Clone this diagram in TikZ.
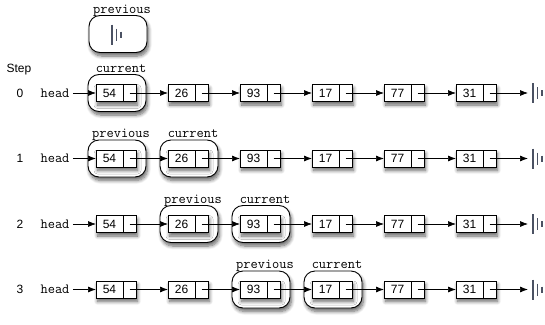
\documentclass[tikz,border=0pt]{standalone}
\usepackage{fontspec}
\setsansfont{Liberation Sans}
\usetikzlibrary{arrows.meta,positioning,shadows.blur}
\definecolor{nilgray}{HTML}{4B5263}
\tikzset{
  boxshadow/.style={blur shadow={shadow xshift=1.5pt, shadow yshift=-3.5pt, shadow opacity=60, shadow blur steps=8, shadow blur radius=3.5pt}},
  cellback/.style={fill=white, inner sep=0pt, outer sep=0pt, minimum height=17pt,
    minimum width=40pt, anchor=west, boxshadow},
  cellbox/.style={draw, line width=0.8pt, inner sep=0pt, outer sep=0pt,
    minimum height=17pt, font=\sffamily\fontsize{12}{14}\selectfont},
  datacell/.style={cellbox, minimum width=27pt, anchor=west},
  linkcell/.style={cellbox, minimum width=13pt},
  cursor/.style={draw, fill=white, line width=0.9pt, rounded corners=11pt,
    minimum width=58pt, minimum height=37pt, boxshadow},
  ptrlabel/.style={font=\ttfamily\fontsize{14}{16}\selectfont, anchor=base, inner sep=0pt},
  steplabel/.style={font=\sffamily\fontsize{12}{14}\selectfont},
  headlabel/.style={font=\ttfamily\fontsize{14}{16}\selectfont},
  link/.style={-{Latex[length=8pt, width=6pt]}, line width=0.7pt},
  nilline/.style={draw=nilgray, line width=1.4pt}
}
\newcommand{\listcell}[4]{%
  \node[cellback] (#1bg) at (#3,#4) {};%
  \node[datacell] (#1) at (#3,#4) {#2};%
  \node[linkcell, right=0pt of #1] (#1p) {};%
}
\newcommand{\cursorat}[4]{%
  \node[cursor] (#1) at ({117+72*#3},#4) {};%
  \node[ptrlabel, xshift=4pt, yshift=2pt] (#1lbl) at (#1.north) {#2};%
}
\newcommand{\groundsym}[1]{%
  \draw[nilline] (#1) +(0,-10) -- +(0,10);
  \draw[nilline] (#1) +(4.5,-6) -- +(4.5,6);
  \draw[nilline] (#1) +(9,-3) -- +(9,3);
}
\begin{document}
\begin{tikzpicture}[x=1pt, y=-1pt]
  \useasboundingbox (0,0) rectangle (545,324);
  % the empty previous reference
  \node[cursor] (prevtop) at (118,34) {};
  \node[ptrlabel, xshift=4pt, yshift=2pt] (prevtoplbl) at (prevtop.north) {previous};
  \coordinate (niltop) at (112,34.5);
  \groundsym{niltop}
  \node[steplabel] (steptitle) at (19,70) {Step};
  % cursors of each step
  \cursorat{cur0}{current}{0}{93}
  \cursorat{prev1}{previous}{0}{158.5}
  \cursorat{cur1}{current}{1}{158.5}
  \cursorat{prev2}{previous}{1}{224}
  \cursorat{cur2}{current}{2}{224}
  \cursorat{prev3}{previous}{2}{289.5}
  \cursorat{cur3}{current}{3}{289.5}
  % the list, once per step
  \foreach \r/\y in {0/93, 1/158.5, 2/224, 3/289.5} {
    \node[steplabel] (step\r) at (20,\y) {\r};
    \node[headlabel] (head\r) at (55,\y) {head};
    \foreach \v [count=\k from 0] in {54,26,93,17,77,31} {
      \listcell{c\r-\k}{\v}{96+72*\k}{\y}
    }
    \draw[link] (head\r) -- (c\r-0.west);
    \foreach \k [evaluate=\k as \n using int(\k+1)] in {0,...,4} {
      \draw[link] (c\r-\k p.center) -- (c\r-\n.west);
    }
    \coordinate (tail\r) at (528,\y);
    \coordinate (nil\r) at (533,\y);
    \draw[link] (c\r-5p.center) -- (tail\r);
    \groundsym{nil\r}
  }
\end{tikzpicture}
\end{document}
